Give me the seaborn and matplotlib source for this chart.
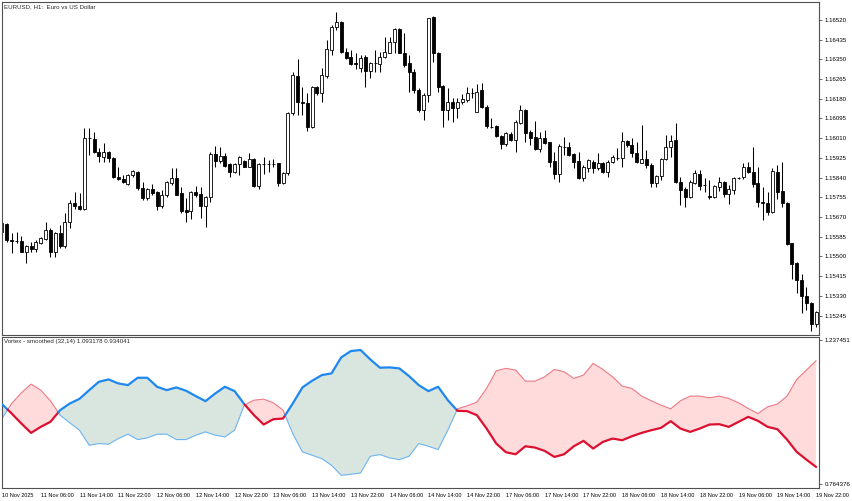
import numpy as np
import pandas as pd
import matplotlib
matplotlib.use("Agg")
import matplotlib.pyplot as plt
import seaborn as sns

# [Data]====================================================================================================
# EURUSD H1 candles, 10 Nov 22:00 .. 19 Nov 22:00 (169 bars)
open_ = [1.15605, 1.15639, 1.15570, 1.15567, 1.15566, 1.15519, 1.15545, 1.15532, 1.15557, 1.15575,
         1.15613, 1.15519, 1.15601, 1.15545, 1.15648, 1.15730, 1.15717, 1.15704, 1.16012, 1.16006,
         1.15950, 1.15929, 1.15950, 1.15924, 1.15842, 1.15834, 1.15812, 1.15851, 1.15864, 1.15795,
         1.15752, 1.15790, 1.15778, 1.15717, 1.15765, 1.15816, 1.15838, 1.15773, 1.15700, 1.15696,
         1.15778, 1.15769, 1.15717, 1.15756, 1.15941, 1.15911, 1.15933, 1.15898, 1.15864, 1.15898,
         1.15911, 1.15885, 1.15920, 1.15803, 1.15897, 1.15898, 1.15898, 1.15903, 1.15816, 1.15860,
         1.16118, 1.16278, 1.16166, 1.16162, 1.16058, 1.16231, 1.16205, 1.16278, 1.16390, 1.16489,
         1.16511, 1.16382, 1.16360, 1.16334, 1.16313, 1.16360, 1.16300, 1.16335, 1.16330, 1.16360,
         1.16377, 1.16425, 1.16481, 1.16377, 1.16334, 1.16295, 1.16218, 1.16131, 1.16196, 1.16533,
         1.16377, 1.16235, 1.16131, 1.16166, 1.16140, 1.16166, 1.16174, 1.16206, 1.16123, 1.16218,
         1.16144, 1.16059, 1.16062, 1.16019, 1.15985, 1.16028, 1.16002, 1.16075, 1.16131, 1.16036,
         1.16015, 1.15963, 1.16011, 1.15993, 1.15911, 1.15855, 1.15973, 1.15972, 1.15941, 1.15911,
         1.15838, 1.15881, 1.15907, 1.15881, 1.15903, 1.15864, 1.15907, 1.15925, 1.15924, 1.15998,
         1.15980, 1.15946, 1.15903, 1.15920, 1.15894, 1.15816, 1.15847, 1.15920, 1.15972, 1.16002,
         1.15821, 1.15790, 1.15756, 1.15816, 1.15855, 1.15809, 1.15760, 1.15756, 1.15799, 1.15821,
         1.15769, 1.15786, 1.15839, 1.15842, 1.15885, 1.15864, 1.15816, 1.15734, 1.15730, 1.15691,
         1.15864, 1.15782, 1.15730, 1.15557, 1.15471, 1.15398, 1.15329, 1.15299, 1.15208]
high = [1.15652, 1.15644, 1.15601, 1.15605, 1.15588, 1.15549, 1.15562, 1.15570, 1.15583, 1.15648,
        1.15622, 1.15605, 1.15635, 1.15687, 1.15743, 1.15778, 1.15773, 1.16054, 1.16054, 1.16036,
        1.15967, 1.15989, 1.15954, 1.15929, 1.15885, 1.15851, 1.15855, 1.15872, 1.15868, 1.15821,
        1.15795, 1.15812, 1.15782, 1.15786, 1.15825, 1.15881, 1.15881, 1.15799, 1.15752, 1.15782,
        1.15803, 1.15799, 1.15760, 1.15950, 1.15976, 1.15972, 1.15946, 1.15903, 1.15903, 1.15933,
        1.15916, 1.15946, 1.15924, 1.15903, 1.15929, 1.15916, 1.15920, 1.15903, 1.15864, 1.16123,
        1.16295, 1.16351, 1.16231, 1.16205, 1.16235, 1.16235, 1.16313, 1.16433, 1.16498, 1.16554,
        1.16515, 1.16399, 1.16390, 1.16377, 1.16369, 1.16369, 1.16338, 1.16390, 1.16382, 1.16446,
        1.16446, 1.16485, 1.16485, 1.16464, 1.16369, 1.16308, 1.16226, 1.16205, 1.16528, 1.16537,
        1.16382, 1.16239, 1.16226, 1.16183, 1.16183, 1.16200, 1.16231, 1.16226, 1.16244, 1.16248,
        1.16153, 1.16097, 1.16067, 1.16023, 1.16036, 1.16036, 1.16088, 1.16153, 1.16136, 1.16045,
        1.16084, 1.16036, 1.16045, 1.15993, 1.15950, 1.15985, 1.16015, 1.15993, 1.15946, 1.15950,
        1.15894, 1.15920, 1.15916, 1.15946, 1.15907, 1.15916, 1.15937, 1.15967, 1.16036, 1.16002,
        1.16011, 1.15993, 1.16067, 1.15959, 1.15903, 1.15851, 1.15924, 1.16023, 1.16023, 1.16075,
        1.15842, 1.15799, 1.15829, 1.15872, 1.15872, 1.15838, 1.15829, 1.15808, 1.15842, 1.15825,
        1.15808, 1.15842, 1.15842, 1.15903, 1.15907, 1.15972, 1.15885, 1.15799, 1.15778, 1.15881,
        1.15894, 1.15907, 1.15734, 1.15557, 1.15476, 1.15424, 1.15368, 1.15303, 1.15264]
low = [1.15596, 1.15562, 1.15514, 1.15557, 1.15519, 1.15471, 1.15519, 1.15519, 1.15553, 1.15570,
       1.15497, 1.15497, 1.15536, 1.15536, 1.15622, 1.15704, 1.15700, 1.15700, 1.15937, 1.15946,
       1.15907, 1.15907, 1.15907, 1.15838, 1.15829, 1.15816, 1.15808, 1.15842, 1.15786, 1.15743,
       1.15743, 1.15765, 1.15700, 1.15708, 1.15756, 1.15808, 1.15765, 1.15687, 1.15648, 1.15661,
       1.15756, 1.15665, 1.15626, 1.15734, 1.15885, 1.15903, 1.15885, 1.15842, 1.15860, 1.15851,
       1.15885, 1.15885, 1.15799, 1.15790, 1.15855, 1.15864, 1.15885, 1.15803, 1.15812, 1.15851,
       1.16110, 1.16110, 1.16110, 1.16041, 1.16054, 1.16196, 1.16166, 1.16269, 1.16369, 1.16477,
       1.16377, 1.16351, 1.16326, 1.16308, 1.16295, 1.16231, 1.16269, 1.16295, 1.16295, 1.16356,
       1.16377, 1.16377, 1.16377, 1.16317, 1.16209, 1.16205, 1.16123, 1.16088, 1.16166, 1.16338,
       1.16209, 1.16058, 1.16088, 1.16080, 1.16097, 1.16157, 1.16166, 1.16183, 1.16123, 1.16140,
       1.16054, 1.16054, 1.16015, 1.15963, 1.15976, 1.15998, 1.15950, 1.16071, 1.15993, 1.15980,
       1.15959, 1.15950, 1.15985, 1.15885, 1.15834, 1.15821, 1.15937, 1.15933, 1.15881, 1.15834,
       1.15825, 1.15864, 1.15860, 1.15872, 1.15860, 1.15842, 1.15903, 1.15916, 1.15885, 1.15972,
       1.15929, 1.15903, 1.15903, 1.15881, 1.15799, 1.15799, 1.15829, 1.15916, 1.15929, 1.15816,
       1.15721, 1.15713, 1.15752, 1.15812, 1.15786, 1.15778, 1.15747, 1.15752, 1.15782, 1.15756,
       1.15726, 1.15769, 1.15834, 1.15834, 1.15860, 1.15799, 1.15713, 1.15657, 1.15678, 1.15687,
       1.15747, 1.15713, 1.15549, 1.15402, 1.15342, 1.15255, 1.15268, 1.15178, 1.15195]
close = [1.15644, 1.15570, 1.15566, 1.15566, 1.15519, 1.15545, 1.15532, 1.15562, 1.15579, 1.15613,
         1.15519, 1.15601, 1.15545, 1.15648, 1.15730, 1.15717, 1.15704, 1.16011, 1.16011, 1.15950,
         1.15933, 1.15950, 1.15924, 1.15842, 1.15834, 1.15821, 1.15851, 1.15868, 1.15795, 1.15752,
         1.15790, 1.15773, 1.15717, 1.15765, 1.15821, 1.15838, 1.15765, 1.15696, 1.15691, 1.15778,
         1.15765, 1.15717, 1.15756, 1.15941, 1.15911, 1.15933, 1.15890, 1.15864, 1.15898, 1.15929,
         1.15885, 1.15920, 1.15803, 1.15898, 1.15898, 1.15899, 1.15898, 1.15816, 1.15860, 1.16118,
         1.16282, 1.16166, 1.16162, 1.16058, 1.16231, 1.16205, 1.16282, 1.16395, 1.16489, 1.16511,
         1.16382, 1.16356, 1.16330, 1.16330, 1.16356, 1.16300, 1.16334, 1.16334, 1.16360, 1.16382,
         1.16425, 1.16481, 1.16377, 1.16326, 1.16295, 1.16218, 1.16131, 1.16196, 1.16528, 1.16377,
         1.16231, 1.16131, 1.16166, 1.16140, 1.16166, 1.16179, 1.16205, 1.16205, 1.16209, 1.16144,
         1.16062, 1.16058, 1.16019, 1.15985, 1.16032, 1.16002, 1.16080, 1.16131, 1.16032, 1.16011,
         1.15963, 1.16011, 1.15989, 1.15907, 1.15855, 1.15976, 1.15972, 1.15937, 1.15907, 1.15838,
         1.15885, 1.15916, 1.15881, 1.15903, 1.15864, 1.15907, 1.15929, 1.15924, 1.15998, 1.15980,
         1.15946, 1.15907, 1.15920, 1.15894, 1.15816, 1.15847, 1.15920, 1.15972, 1.15998, 1.15821,
         1.15786, 1.15756, 1.15821, 1.15860, 1.15803, 1.15808, 1.15756, 1.15803, 1.15821, 1.15769,
         1.15790, 1.15838, 1.15838, 1.15885, 1.15864, 1.15812, 1.15734, 1.15730, 1.15691, 1.15868,
         1.15778, 1.15730, 1.15553, 1.15467, 1.15398, 1.15329, 1.15299, 1.15208, 1.15260]

# Vortex (smoothed), read every second bar
vi_idx = list(range(0, 169, 2))
vi_plus = [1.0272, 0.9965, 0.9637, 0.9330, 0.9528, 0.9692, 1.0075, 1.0294, 1.0447, 1.0732,
           1.1006, 1.1082, 1.0951, 1.0896, 1.1137, 1.1137, 1.0842, 1.0732, 1.0820, 1.0710,
           1.0535, 1.0371, 1.0622, 1.0842, 1.0699, 1.0272, 0.9911, 0.9604, 0.9779, 0.9801,
           1.0294, 1.0820, 1.1039, 1.1225, 1.1280, 1.1805, 1.2013, 1.2046, 1.1739, 1.1466,
           1.1477, 1.1444, 1.1192, 1.0896, 1.0699, 1.0842, 1.0403, 1.0053, 1.0042, 0.9911,
           0.9473, 0.8980, 0.8695, 0.8630, 0.8892, 0.8849, 0.8739, 0.8542, 0.8630, 0.8892,
           0.9068, 0.8816, 0.9035, 0.9144, 0.9090, 0.9221, 0.9330, 0.9418, 0.9495, 0.9714,
           0.9473, 0.9363, 0.9473, 0.9604, 0.9615, 0.9528, 0.9692, 0.9856, 0.9725, 0.9528,
           0.9451, 0.9111, 0.8706, 0.8454, 0.8213]
vi_minus = [0.9801, 1.0294, 1.0644, 1.0929, 1.0732, 1.0382, 0.9911, 0.9659, 0.9418, 0.8925,
            0.8980, 0.8958, 0.9144, 0.9287, 0.9111, 0.9166, 0.9287, 0.9287, 0.9111, 0.9111,
            0.9254, 0.9363, 0.9254, 0.9199, 0.9418, 1.0239, 1.0403, 1.0436, 1.0316, 1.0075,
            0.9308, 0.8706, 0.8597, 0.8487, 0.8268, 0.7940, 0.7973, 0.8016, 0.8564, 0.8619,
            0.8509, 0.8454, 0.8564, 0.8980, 0.8892, 0.8783, 0.9418, 1.0119, 1.0217, 1.0338,
            1.0787, 1.1367, 1.1444, 1.1389, 1.1027, 1.1027, 1.1170, 1.1411, 1.1334, 1.1115,
            1.1225, 1.1608, 1.1411, 1.1170, 1.0863, 1.0787, 1.0535, 1.0382, 1.0239, 1.0119,
            1.0382, 1.0535, 1.0535, 1.0480, 1.0535, 1.0458, 1.0316, 1.0130, 0.9965, 1.0185,
            1.0272, 1.0535, 1.1082, 1.1389, 1.1696]

date_idx = [0, 8, 16, 24, 32, 40, 48, 56, 64, 72, 80, 88, 96, 104, 112, 120, 128, 136, 144, 152, 160, 168]
date_labels = ["10 Nov 2025", "11 Nov 06:00", "11 Nov 14:00", "11 Nov 22:00", "12 Nov 06:00",
               "12 Nov 14:00", "12 Nov 22:00", "13 Nov 06:00", "13 Nov 14:00", "13 Nov 22:00",
               "14 Nov 06:00", "14 Nov 14:00", "14 Nov 22:00", "17 Nov 06:00", "17 Nov 14:00",
               "17 Nov 22:00", "18 Nov 06:00", "18 Nov 14:00", "18 Nov 22:00", "19 Nov 06:00",
               "19 Nov 14:00", "19 Nov 22:00"]
price_ticks = [1.15245, 1.15330, 1.15415, 1.15500, 1.15585, 1.15670, 1.15755, 1.15840,
               1.15925, 1.16010, 1.16095, 1.16180, 1.16265, 1.16350, 1.16435, 1.16520]
vi_ticks = [0.764376, 1.237451]

# [Style]====================================================================================================
sns.set_style("white")
plt.rcParams['font.family'] = ['Liberation Sans', 'DejaVu Sans']
FS = 4.4
FS_DATE = 4.0
FRAME = '#505050'

W, H = 852, 501
fig = plt.figure(figsize=(W / 100, H / 100), dpi=100)
ax1 = fig.add_axes([1.5 / W, 1 - 335 / H, (819 - 1.5) / W, (335 - 2) / H])
ax2 = fig.add_axes([1.5 / W, 1 - 488 / H, (819 - 1.5) / W, (488 - 337) / H])

for ax in (ax1, ax2):
    for s in ax.spines.values():
        s.set_color(FRAME)
        s.set_linewidth(0.8)
    ax.set_xlim(-0.1, 168.6)
    ax.yaxis.tick_right()
    ax.tick_params(axis='both', length=2.5, width=0.6, color=FRAME, labelsize=FS,
                   pad=1.5, labelcolor='black')

# [Candles]====================================================================================================
df = pd.DataFrame({'o': open_, 'h': high, 'l': low, 'c': close})
df['i'] = np.arange(len(df))
up = df.c >= df.o
ax1.vlines(df.i, df.l, df.h, color='black', lw=0.75, zorder=1)
ax1.bar(df.i[up], (df.c - df.o)[up], bottom=df.o[up], width=0.62,
        color='white', edgecolor='black', lw=0.6, zorder=2)
ax1.bar(df.i[~up], (df.o - df.c)[~up], bottom=df.c[~up], width=0.62,
        color='black', edgecolor='black', lw=0.6, zorder=2)

ax1.set_ylim(1.15161, 1.16597)
ax1.set_yticks(price_ticks)
ax1.set_yticklabels([f"{t:.5f}" for t in price_ticks])
ax1.set_xticks([])
ax1.text(0.003, 0.993, "EURUSD, H1:  Euro vs US Dollar", transform=ax1.transAxes,
         va='top', ha='left', fontsize=FS)

# [Vortex]====================================================================================================
x = np.array(vi_idx, float)
a = np.array(vi_plus)
b = np.array(vi_minus)

# insert the crossing points so colours switch exactly where the lines meet
xs, ya, yb = [x[0]], [a[0]], [b[0]]
for k in range(len(x) - 1):
    d0, d1 = a[k] - b[k], a[k + 1] - b[k + 1]
    if d0 * d1 < 0:
        t = d0 / (d0 - d1)
        yc = a[k] + t * (a[k + 1] - a[k])
        xs.append(x[k] + t * (x[k + 1] - x[k]))
        ya.append(yc)
        yb.append(yc)
    xs.append(x[k + 1])
    ya.append(a[k + 1])
    yb.append(b[k + 1])
xs, ya, yb = np.array(xs), np.array(ya), np.array(yb)

GREEN_FILL, PINK_FILL = '#d9e5df', '#ffdcdb'
ax2.fill_between(xs, ya, yb, where=ya >= yb, interpolate=True, color=GREEN_FILL, lw=0, zorder=1)
ax2.fill_between(xs, ya, yb, where=ya <= yb, interpolate=True, color=PINK_FILL, lw=0, zorder=1)

# split into runs of the same sign
mid = (ya[:-1] + ya[1:]) / 2 - (yb[:-1] + yb[1:]) / 2
runs = []
start = 0
for j in range(1, len(mid) + 1):
    if j == len(mid) or (mid[j] >= 0) != (mid[start] >= 0):
        runs.append((start, j, mid[start] >= 0))
        start = j

for s, e, bull in runs:
    seg = slice(s, e + 1)
    sns.lineplot(x=xs[seg], y=yb[seg], ax=ax2, sort=False, estimator=None,
                 color='#6cb4f0' if bull else '#ec7a86', lw=0.8, zorder=2)
    sns.lineplot(x=xs[seg], y=ya[seg], ax=ax2, sort=False, estimator=None,
                 color='#1e88f0' if bull else '#dc1030', lw=1.6, zorder=3)

ax2.set_ylim(0.7524, 1.2473)
ax2.set_yticks(vi_ticks)
ax2.set_yticklabels([f"{t:.6f}" for t in vi_ticks])
ax2.set_xticks(date_idx)
ax2.set_xticklabels(date_labels, ha='left', fontsize=FS_DATE)
ax2.tick_params(axis='x', pad=1.2)
ax2.set_xlabel('')
ax2.set_ylabel('')
ax2.text(0.003, 0.985, "Vortex - smoothed (32,14) 1.093178 0.934041", transform=ax2.transAxes,
         va='top', ha='left', fontsize=FS)

fig.savefig("out.png", dpi=100)
